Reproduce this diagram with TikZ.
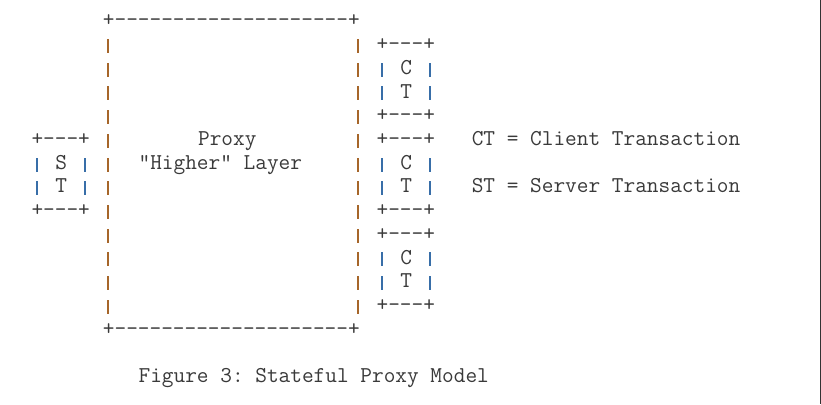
\documentclass[tikz,border=0pt]{standalone}
\usepackage{xcolor}
\definecolor{ink}{HTML}{3A3A3A}
\definecolor{bpipe}{HTML}{A6662A}
\definecolor{spipe}{HTML}{386EA8}
\definecolor{edgeline}{HTML}{333333}
\newcommand\dsh[1]{\foreach\i in {1,...,#1}{-\kern0pt}}
\begin{document}
\begin{tikzpicture}[x=1pt,y=1pt,
  txt/.style={inner sep=0pt,outer sep=0pt,anchor=base west,text=ink,
    font=\fontsize{22.67}{24}\selectfont\ttfamily\frenchspacing},
  pipebar/.style={inner sep=0pt,outer sep=0pt,draw=none,minimum width=2pt,minimum height=14pt,anchor=center},
  bigpipe/.style={pipebar,fill=bpipe},
  smallpipe/.style={pipebar,fill=spipe}]
\useasboundingbox (0,0) rectangle (821,-404);
\fill[white] (0,0) rectangle (821,-404);
\coordinate (edgetop) at (820.5,0);
\coordinate (edgebot) at (820.5,-404);
\draw[edgeline,line width=1pt] (edgetop) -- (edgebot);
% pipes, snapped to the pixel grid
\foreach \r in {1,...,12}{
  \node[bigpipe] (bl\r) at (108,{-(22.3+23.7*\r)}) {};
  \node[bigpipe] (br\r) at (358,{-(22.3+23.7*\r)}) {};
}
\foreach \b/\r in {a/1,b/5,c/9}{
  \foreach \k in {1,2}{
    \node[smallpipe] (ct\b l\k) at (382,{-(22.3+23.7*(\r+\k))}) {};
    \node[smallpipe] (ct\b r\k) at (430,{-(22.3+23.7*(\r+\k))}) {};
  }
}
\foreach \k in {1,2}{
  \node[smallpipe] (stl\k) at (37,{-(22.3+23.7*(5+\k))}) {};
  \node[smallpipe] (str\k) at (85,{-(22.3+23.7*(5+\k))}) {};
}
\begin{scope}[x=11.9pt,y=-23.7pt,shift={(31.5pt,-27pt)}]
  % big box
  \node[txt] (bigtop) at (6,0) {+\dsh{20}+};
  \node[txt] (bigbot) at (6,13) {+\dsh{20}+};
  \node[txt] (proxy) at (14,5) {Proxy};
  \node[txt] (higher) at (9,6) {"Higher" Layer};
  % client transaction boxes
  \foreach \b/\r in {a/1,b/5,c/9}{
    \node[txt] (ct\b top) at (29,\r) {+\dsh{3}+};
    \node[txt] (ct\b C) at (31,\r+1) {C};
    \node[txt] (ct\b T) at (31,\r+2) {T};
    \node[txt] (ct\b bot) at (29,\r+3) {+\dsh{3}+};
  }
  % server transaction box
  \node[txt] (sttop) at (0,5) {+\dsh{3}+};
  \node[txt] (stS) at (2,6) {S};
  \node[txt] (stT) at (2,7) {T};
  \node[txt] (stbot) at (0,8) {+\dsh{3}+};
  % legend
  \node[txt] (legct) at (37,5) {CT = Client Transaction};
  \node[txt] (legst) at (37,7) {ST = Server Transaction};
  % caption
  \node[txt] (caption) at (9,15) {Figure 3: Stateful Proxy Model};
\end{scope}
\end{tikzpicture}
\end{document}
